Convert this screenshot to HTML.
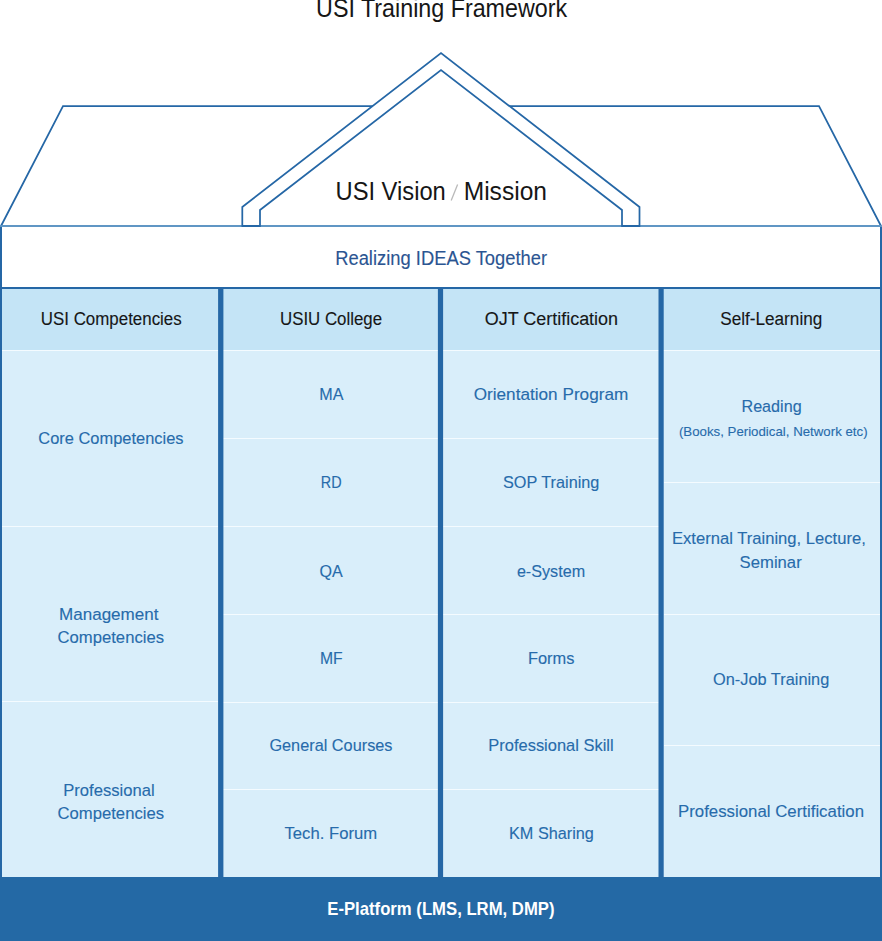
<!DOCTYPE html>
<html><head><meta charset="utf-8"><title>USI Training Framework</title>
<style>
html,body{margin:0;padding:0;background:#fff;width:882px;height:941px;overflow:hidden}
svg{display:block}
text{font-family:"Liberation Sans",sans-serif}
</style></head><body>
<svg width="882" height="941" viewBox="0 0 882 941">
<rect x="0" y="0" width="882" height="941" fill="#ffffff"/>

<rect x="0" y="289" width="882" height="61" fill="#c4e4f6"/>
<rect x="0" y="350" width="882" height="527" fill="#d9eefa"/>
<rect x="0" y="350" width="882" height="1" fill="#f4fbff"/>
<rect x="2" y="526" width="216" height="1" fill="#f4fbff"/>
<rect x="2" y="701" width="216" height="1" fill="#f4fbff"/>
<rect x="223" y="438" width="215" height="1" fill="#f4fbff"/>
<rect x="223" y="526" width="215" height="1" fill="#f4fbff"/>
<rect x="223" y="614" width="215" height="1" fill="#f4fbff"/>
<rect x="223" y="702" width="215" height="1" fill="#f4fbff"/>
<rect x="223" y="789" width="215" height="1" fill="#f4fbff"/>
<rect x="443" y="438" width="216" height="1" fill="#f4fbff"/>
<rect x="443" y="526" width="216" height="1" fill="#f4fbff"/>
<rect x="443" y="614" width="216" height="1" fill="#f4fbff"/>
<rect x="443" y="702" width="216" height="1" fill="#f4fbff"/>
<rect x="443" y="789" width="216" height="1" fill="#f4fbff"/>
<rect x="664" y="482" width="216" height="1" fill="#f4fbff"/>
<rect x="664" y="614" width="216" height="1" fill="#f4fbff"/>
<rect x="664" y="745" width="216" height="1" fill="#f4fbff"/>
<rect x="0" y="287" width="882" height="2" fill="#2567a6"/>
<rect x="0" y="226" width="2" height="651" fill="#2567a6"/>
<rect x="880" y="226" width="2" height="651" fill="#2567a6"/>
<rect x="218.1" y="287" width="5.30" height="590" fill="#2567a6"/>
<rect x="437.9" y="287" width="5.20" height="590" fill="#2567a6"/>
<rect x="658.5" y="287" width="5.20" height="590" fill="#2567a6"/>
<rect x="0" y="877" width="882" height="64" fill="#2469a5"/>
<path d="M1,226 L63,106 L819,106 L881,226" fill="none" stroke="#2567a6" stroke-width="1.75"/>
<path d="M242.3,226 V207 L441,53 L639.5,207 V226" fill="#fff" stroke="#2567a6" stroke-width="1.75"/>
<path d="M260,226 V210 L441,70 L622,210 V226" fill="none" stroke="#2567a6" stroke-width="1.75"/>
<rect x="0" y="225" width="882" height="2" fill="#6096c4"/>
<rect x="241.5" y="225" width="19.3" height="2" fill="#2567a6"/>
<rect x="621.2" y="225" width="19.1" height="2" fill="#2567a6"/>
<line x1="451.2" y1="200.4" x2="457.6" y2="184.6" stroke="#b9b9b9" stroke-width="1.3"/>
<text x="441.60" y="16.75" font-size="25" fill="#161616" text-anchor="middle" textLength="251.00" lengthAdjust="spacingAndGlyphs">USI Training Framework</text>
<text x="390.65" y="199.80" font-size="26" fill="#161616" text-anchor="middle" textLength="110.30" lengthAdjust="spacingAndGlyphs">USI Vision</text>
<text x="505.35" y="199.80" font-size="26" fill="#161616" text-anchor="middle" textLength="83.30" lengthAdjust="spacingAndGlyphs">Mission</text>
<text x="441.15" y="264.60" font-size="19.5" fill="#2b5592" stroke="#2b5592" stroke-width="0.12" text-anchor="middle" textLength="211.90" lengthAdjust="spacingAndGlyphs">Realizing IDEAS Together</text>
<text x="111.25" y="324.80" font-size="18" fill="#161616" stroke="#161616" stroke-width="0.12" text-anchor="middle" textLength="140.90" lengthAdjust="spacingAndGlyphs">USI Competencies</text>
<text x="331.00" y="325.00" font-size="18" fill="#161616" stroke="#161616" stroke-width="0.12" text-anchor="middle" textLength="102.00" lengthAdjust="spacingAndGlyphs">USIU College</text>
<text x="551.40" y="324.90" font-size="18" fill="#161616" stroke="#161616" stroke-width="0.12" text-anchor="middle" textLength="133.40" lengthAdjust="spacingAndGlyphs">OJT Certification</text>
<text x="771.25" y="324.80" font-size="18" fill="#161616" stroke="#161616" stroke-width="0.12" text-anchor="middle" textLength="102.10" lengthAdjust="spacingAndGlyphs">Self-Learning</text>
<text x="110.95" y="444.30" font-size="17" fill="#276bab" stroke="#276bab" stroke-width="0.12" text-anchor="middle" textLength="145.30" lengthAdjust="spacingAndGlyphs">Core Competencies</text>
<text x="108.75" y="619.50" font-size="17" fill="#276bab" stroke="#276bab" stroke-width="0.12" text-anchor="middle" textLength="99.50" lengthAdjust="spacingAndGlyphs">Management</text>
<text x="110.80" y="643.00" font-size="17" fill="#276bab" stroke="#276bab" stroke-width="0.12" text-anchor="middle" textLength="106.40" lengthAdjust="spacingAndGlyphs">Competencies</text>
<text x="108.90" y="795.60" font-size="17" fill="#276bab" stroke="#276bab" stroke-width="0.12" text-anchor="middle" textLength="91.40" lengthAdjust="spacingAndGlyphs">Professional</text>
<text x="110.80" y="819.40" font-size="17" fill="#276bab" stroke="#276bab" stroke-width="0.12" text-anchor="middle" textLength="106.40" lengthAdjust="spacingAndGlyphs">Competencies</text>
<text x="331.43" y="399.95" font-size="17" fill="#276bab" stroke="#276bab" stroke-width="0.12" text-anchor="middle" textLength="24.15" lengthAdjust="spacingAndGlyphs">MA</text>
<text x="331.20" y="487.90" font-size="17" fill="#276bab" stroke="#276bab" stroke-width="0.12" text-anchor="middle" textLength="20.80" lengthAdjust="spacingAndGlyphs">RD</text>
<text x="331.00" y="576.70" font-size="17" fill="#276bab" stroke="#276bab" stroke-width="0.12" text-anchor="middle" textLength="23.20" lengthAdjust="spacingAndGlyphs">QA</text>
<text x="331.25" y="663.50" font-size="17" fill="#276bab" stroke="#276bab" stroke-width="0.12" text-anchor="middle" textLength="22.70" lengthAdjust="spacingAndGlyphs">MF</text>
<text x="330.95" y="750.95" font-size="17" fill="#276bab" stroke="#276bab" stroke-width="0.12" text-anchor="middle" textLength="123.10" lengthAdjust="spacingAndGlyphs">General Courses</text>
<text x="330.80" y="839.05" font-size="17" fill="#276bab" stroke="#276bab" stroke-width="0.12" text-anchor="middle" textLength="92.60" lengthAdjust="spacingAndGlyphs">Tech. Forum</text>
<text x="551.00" y="400.10" font-size="17" fill="#276bab" stroke="#276bab" stroke-width="0.12" text-anchor="middle" textLength="154.60" lengthAdjust="spacingAndGlyphs">Orientation Program</text>
<text x="551.20" y="488.10" font-size="17" fill="#276bab" stroke="#276bab" stroke-width="0.12" text-anchor="middle" textLength="96.40" lengthAdjust="spacingAndGlyphs">SOP Training</text>
<text x="551.00" y="576.70" font-size="17" fill="#276bab" stroke="#276bab" stroke-width="0.12" text-anchor="middle" textLength="68.20" lengthAdjust="spacingAndGlyphs">e-System</text>
<text x="551.15" y="663.50" font-size="17" fill="#276bab" stroke="#276bab" stroke-width="0.12" text-anchor="middle" textLength="46.50" lengthAdjust="spacingAndGlyphs">Forms</text>
<text x="551.00" y="751.00" font-size="17" fill="#276bab" stroke="#276bab" stroke-width="0.12" text-anchor="middle" textLength="125.40" lengthAdjust="spacingAndGlyphs">Professional Skill</text>
<text x="551.45" y="839.05" font-size="17" fill="#276bab" stroke="#276bab" stroke-width="0.12" text-anchor="middle" textLength="84.90" lengthAdjust="spacingAndGlyphs">KM Sharing</text>
<text x="771.55" y="412.10" font-size="17" fill="#276bab" stroke="#276bab" stroke-width="0.12" text-anchor="middle" textLength="60.10" lengthAdjust="spacingAndGlyphs">Reading</text>
<text x="773.25" y="435.60" font-size="13.5" fill="#276bab" stroke="#276bab" stroke-width="0.12" text-anchor="middle" textLength="188.70" lengthAdjust="spacingAndGlyphs">(Books, Periodical, Network etc)</text>
<text x="768.90" y="544.00" font-size="17" fill="#276bab" stroke="#276bab" stroke-width="0.12" text-anchor="middle" textLength="193.80" lengthAdjust="spacingAndGlyphs">External Training, Lecture,</text>
<text x="770.65" y="568.10" font-size="17" fill="#276bab" stroke="#276bab" stroke-width="0.12" text-anchor="middle" textLength="62.10" lengthAdjust="spacingAndGlyphs">Seminar</text>
<text x="771.15" y="684.80" font-size="17" fill="#276bab" stroke="#276bab" stroke-width="0.12" text-anchor="middle" textLength="116.30" lengthAdjust="spacingAndGlyphs">On-Job Training</text>
<text x="771.00" y="817.20" font-size="17" fill="#276bab" stroke="#276bab" stroke-width="0.12" text-anchor="middle" textLength="186.00" lengthAdjust="spacingAndGlyphs">Professional Certification</text>
<text x="440.90" y="914.80" font-size="18.5" fill="#ffffff" font-weight="bold" text-anchor="middle" textLength="227.20" lengthAdjust="spacingAndGlyphs">E-Platform (LMS, LRM, DMP)</text>
</svg>
</body></html>
